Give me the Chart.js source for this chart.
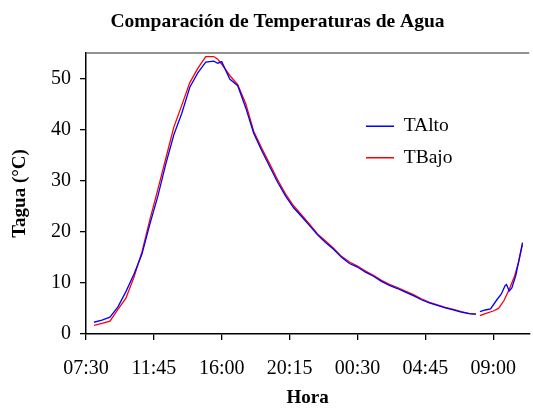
<!DOCTYPE html>
<html>
<head>
<meta charset="utf-8">
<script src="https://cdn.jsdelivr.net/npm/chart.js@4/dist/chart.umd.min.js"></script>
<style>
  html, body { margin: 0; padding: 0; background: #fff; }
  #wrap { width: 533px; height: 412px; }
</style>
</head>
<body>
<div id="wrap"><canvas id="c" width="533" height="412"></canvas></div>
<script>
// Elapsed minutes since 07:30 (null entries break the line)
const timesAlto = [30,60,90,120,150,180,210,240,270,300,330,360,390,420,450,480,495,510,540,570,600,630,660,690,720,750,780,810,840,870,900,930,960,990,1020,1050,1080,1110,1140,1170,1200,1230,1260,1290,1320,1350,1380,1410,1440,1465,1472,1480,1500,1520,1545,1560,1575,1580,1590,1600,1615,1640];
const tAlto = [2.3,2.7,3.3,5.3,8.3,11.7,15.6,21.5,27.0,33.3,39.0,43.2,48.3,51.1,53.2,53.4,53.0,53.3,49.9,48.6,44.3,39.3,35.9,32.8,29.7,27.0,24.7,23.0,21.2,19.4,17.9,16.6,15.0,13.8,13.1,12.1,11.3,10.3,9.5,8.9,8.2,7.5,6.7,6.1,5.6,5.1,4.7,4.3,4.0,3.9,null,4.4,4.7,4.9,6.8,7.8,9.5,9.7,8.4,9.0,11.5,17.9];
const timesBajo = [30,60,90,120,150,180,210,240,270,300,330,360,390,420,450,480,495,510,540,570,600,630,660,690,720,750,780,810,840,870,900,930,960,990,1020,1050,1080,1110,1140,1170,1200,1230,1260,1290,1320,1350,1380,1410,1440,1465,1472,1480,1500,1530,1550,1570,1590,1610,1625,1640];
const tBajo = [1.7,2.1,2.5,4.8,7.0,11.1,16.0,22.4,28.3,34.4,40.5,44.8,49.2,52.0,54.3,54.3,53.8,52.8,50.6,48.8,45.1,39.7,36.4,33.3,30.2,27.4,25.1,23.3,21.5,19.6,18.2,16.8,15.2,14.1,13.3,12.3,11.5,10.5,9.7,9.1,8.4,7.7,6.9,6.2,5.7,5.2,4.8,4.4,4.0,3.9,null,3.6,4.0,4.5,5.0,6.5,8.7,11.3,14.0,17.5];

const xTickValues = [0,255,510,765,1020,1275,1530];
const xTickLabels = ['07:30','11:45','16:00','20:15','00:30','04:45','09:00'];
const yTickValues = [0,10,20,30,40,50];

const seriesNames = ['TAlto','TBajo'];
const seriesColors = ['#0000FF','#FF0000'];

const toPoints = (xs, ys) => xs.map((x, i) => ({x: x, y: ys[i]}));

const FONT = "'Liberation Serif', 'Times New Roman', serif";

const topFrame = {
  id: 'topFrame',
  beforeDatasetsDraw(chart) {
    const {ctx, chartArea} = chart;
    ctx.save();
    ctx.strokeStyle = '#6e6e6e';
    ctx.lineWidth = 1.5;
    ctx.beginPath();
    ctx.moveTo(chartArea.left, chartArea.top);
    ctx.lineTo(chartArea.right, chartArea.top);
    ctx.stroke();
    ctx.restore();
  }
};

const placeLegend = {
  id: 'placeLegend',
  afterLayout(chart) {
    const lg = chart.legend;
    if (!lg) return;
    lg.left = 354; lg.top = 104.5; lg.right = 533; lg.bottom = 334;
    lg.width = lg.right - lg.left; lg.height = lg.bottom - lg.top;
  }
};

new Chart(document.getElementById('c'), {
  type: 'line',
  data: {
    datasets: [
      { label: seriesNames[0], data: toPoints(timesAlto, tAlto), borderColor: seriesColors[0], backgroundColor: seriesColors[0], borderWidth: 1.3, pointRadius: 0, tension: 0, spanGaps: false },
      { label: seriesNames[1], data: toPoints(timesBajo, tBajo), borderColor: seriesColors[1], backgroundColor: seriesColors[1], borderWidth: 1.3, pointRadius: 0, tension: 0, spanGaps: false }
    ]
  },
  options: {
    responsive: false,
    animation: false,
    devicePixelRatio: 1,
    layout: { padding: { left: 22, right: 0, top: 0, bottom: 0 } },
    plugins: {
      title: {
        display: true,
        text: 'Comparación de Temperaturas de Agua',
        color: '#000',
        font: { family: FONT, size: 19.5, weight: 'bold' },
        padding: { top: 10, bottom: 19.6 }
      },
      legend: {
        display: true,
        position: 'chartArea',
        align: 'start',
        labels: {
          usePointStyle: true,
          pointStyle: 'line',
          pointStyleWidth: 28,
          padding: 12,
          color: '#000',
          font: { family: FONT, size: 19.5 }
        }
      },
      tooltip: { enabled: false }
    },
    scales: {
      x: {
        type: 'linear',
        min: 0,
        max: 1665,
        afterBuildTicks: (s) => { s.ticks = xTickValues.map(v => ({ value: v })); },
        afterFit: (s) => { s.height = 78; },
        ticks: {
          autoSkip: false,
          maxRotation: 0,
          padding: 17,
          color: '#000',
          font: { family: FONT, size: 20 },
          callback: (v, i) => xTickLabels[i]
        },
        grid: { display: true, drawOnChartArea: false, drawTicks: true, tickLength: 6, color: '#000', lineWidth: 1.3 },
        border: { display: true, color: '#000', width: 1.5 },
        title: {
          display: true,
          text: 'Hora',
          color: '#000',
          font: { family: FONT, size: 19, weight: 'bold' },
          padding: { top: 0, bottom: 3 }
        }
      },
      y: {
        type: 'linear',
        min: 0,
        max: 55,
        afterBuildTicks: (s) => { s.ticks = yTickValues.map(v => ({ value: v })); },
        afterFit: (s) => { s.width = 64; },
        ticks: {
          padding: 9,
          color: '#000',
          font: { family: FONT, size: 20 }
        },
        grid: { display: true, drawOnChartArea: false, drawTicks: true, tickLength: 6, color: '#000', lineWidth: 1.3 },
        border: { display: true, color: '#000', width: 1.5 },
        title: {
          display: true,
          text: 'Tagua (°C)',
          color: '#000',
          font: { family: FONT, size: 19, weight: 'bold' },
          padding: { top: -13, bottom: 0 }
        }
      }
    }
  },
  plugins: [topFrame, placeLegend]
});
</script>
</body>
</html>
